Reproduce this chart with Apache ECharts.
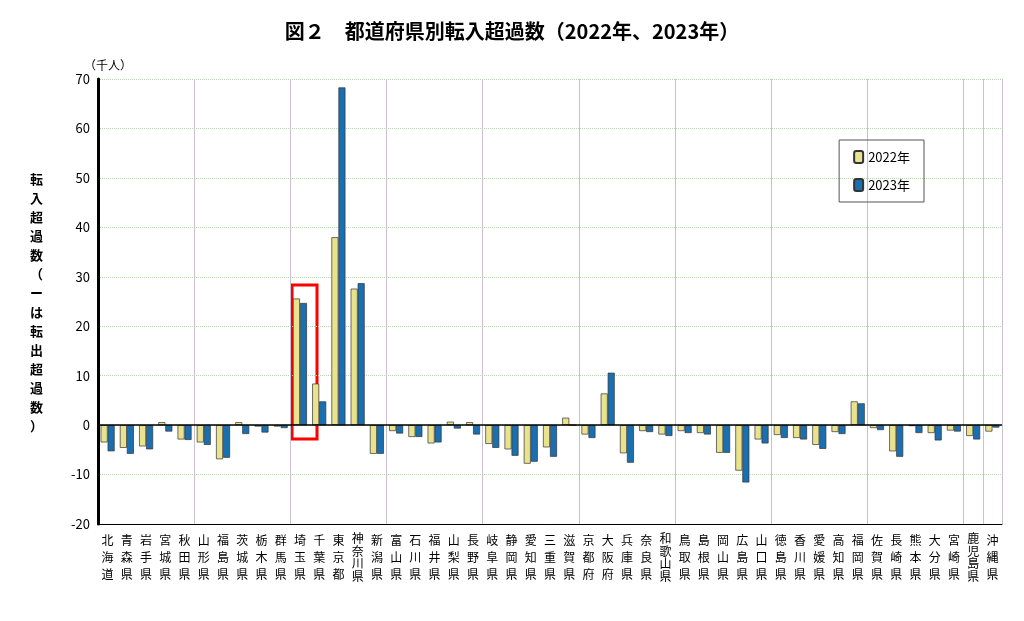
<!DOCTYPE html><html><head><meta charset="utf-8"><script src="https://cdn.jsdelivr.net/npm/echarts@6/dist/echarts.min.js"></script></head><body style="margin:0"><div id="c" style="width:1024px;height:621px"></div><script>
const categories=["北海道","青森県","岩手県","宮城県","秋田県","山形県","福島県","茨城県","栃木県","群馬県","埼玉県","千葉県","東京都","神奈川県","新潟県","富山県","石川県","福井県","山梨県","長野県","岐阜県","静岡県","愛知県","三重県","滋賀県","京都府","大阪府","兵庫県","奈良県","和歌山県","鳥取県","島根県","岡山県","広島県","山口県","徳島県","香川県","愛媛県","高知県","福岡県","佐賀県","長崎県","熊本県","大分県","宮崎県","鹿児島県","沖縄県"];
const v2022=[-3.5,-4.6,-4.3,0.6,-2.9,-3.5,-6.9,0.6,-0.3,-0.3,25.6,8.4,38.0,27.6,-5.8,-1.2,-2.4,-3.7,0.7,0.6,-3.8,-4.9,-7.8,-4.5,1.5,-1.9,6.4,-5.7,-1.2,-1.9,-1.2,-1.6,-5.6,-9.2,-2.9,-2.0,-2.6,-4.0,-1.4,4.8,-0.6,-5.3,-0.2,-1.6,-1.1,-2.2,-1.3];
const v2023=[-5.3,-5.8,-4.9,-1.3,-3.0,-4.0,-6.6,-1.8,-1.5,-0.6,24.7,4.8,68.3,28.7,-5.8,-1.7,-2.4,-3.5,-0.7,-1.9,-4.6,-6.2,-7.4,-6.4,0,-2.6,10.6,-7.6,-1.4,-2.2,-1.6,-1.9,-5.6,-11.6,-3.7,-2.6,-2.9,-4.8,-1.8,4.4,-1.0,-6.4,-1.6,-3.1,-1.3,-2.9,-0.5];
const c=echarts.init(document.getElementById('c'));
const F='"Noto Sans CJK JP"';
c.setOption({
title:{text:'図２　都道府県別転入超過数（2022年、2023年）',left:'center',top:16,textStyle:{fontFamily:F,fontSize:20,fontWeight:'bold',color:'#000'}},
legend:{right:100,top:140,orient:'vertical',itemGap:14,itemWidth:9,itemHeight:12,padding:[10,14,10,14],borderColor:'#555',borderWidth:1,textStyle:{fontFamily:F,fontSize:13,color:'#000'},data:['2022年','2023年']},
grid:{left:98,right:22,top:79,bottom:97},
xAxis:{type:'category',data:categories,axisLine:{onZero:false,lineStyle:{color:'#000'}},axisTick:{show:false},
 splitLine:{show:true,interval:4,lineStyle:{color:'#c8c0d0'}},
 axisLabel:{interval:0,fontFamily:F,fontSize:12,color:'#000',
  formatter:s=>{const ch=s.split('');return ch.length>3?'{s|'+ch.join('}\n{s|')+'}':'{n|'+ch.join('}\n{n|')+'}';},
  rich:{n:{fontFamily:F,fontSize:12,lineHeight:17,color:'#000'},s:{fontFamily:F,fontSize:12,lineHeight:12.75,color:'#000'}}}},
yAxis:{type:'value',min:-20,max:70,interval:10,name:'（千人）',nameGap:8,nameTextStyle:{fontFamily:F,fontSize:12,color:'#000',padding:[0,0,0,20]},
 axisLine:{show:true,lineStyle:{color:'#000',width:3}},axisLabel:{fontFamily:F,fontSize:13,color:'#000'},
 splitLine:{lineStyle:{color:'#b8d8b0',type:'dotted'}}},
graphic:[{type:'text',left:30,top:170,style:{text:'転入超過数（ーは転出超過数）'.split('').join('\n'),font:'bold 13px '+F,lineHeight:19,fill:'#000'}},
{type:'rect',shape:{x:292,y:285,width:25,height:154},style:{fill:'none',stroke:'#f00',lineWidth:3}}],
series:[
{name:'2022年',type:'bar',data:v2022,barWidth:7,barGap:'0%',itemStyle:{color:'#e8e38c',borderColor:'#333',borderWidth:0.7},markLine:{silent:true,symbol:'none',label:{show:false},lineStyle:{color:'#000',type:'solid',width:1.5},data:[{yAxis:0}]}},
{name:'2023年',type:'bar',data:v2023,barWidth:7,itemStyle:{color:'#1a6fb0',borderColor:'#333',borderWidth:0.7}}
]});
</script></body></html>
